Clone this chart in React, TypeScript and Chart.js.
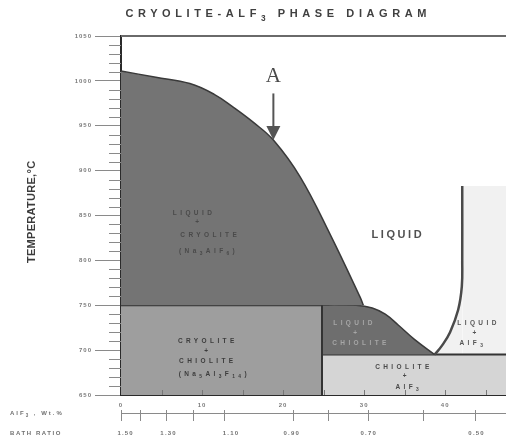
import React, { useEffect, useRef } from 'react';
import { Chart, registerables } from 'chart.js';

Chart.register(...registerables);

const FONT = '"Liberation Sans", Arial, sans-serif';

// ---- text ----
const TITLE = 'CRYOLITE-ALF_3 PHASE DIAGRAM';
const Y_TITLE = 'TEMPERATURE,°C';
const X_TITLE = 'AlF_3 , Wt.%';
const BATH_TITLE = 'BATH RATIO';

// ---- axes ----
const X_MAX = 47.5;
const T_MIN = 650;
const T_MAX = 1050;
const xTickValues = [0, 10, 20, 30, 40];
const xTickLabels = ['0', '10', '20', '30', '40'];
const xInnerTicks = [5, 10, 15, 20, 25, 30, 35, 40, 45];
const yTickValues = [650, 700, 750, 800, 850, 900, 950, 1000, 1050];
const yMinorValues = [
  660, 670, 680, 690, 710, 720, 730, 740, 760, 770, 780, 790,
  810, 820, 830, 840, 860, 870, 880, 890, 910, 920, 930, 940,
  960, 970, 980, 990, 1010, 1020, 1030, 1040,
];

// bath ratio secondary scale (positions in wt% AlF3)
const bathTickPos = [0, 2.4, 5.6, 8.9, 12.7, 21.2, 25.6, 30.5, 37.2, 43.7];
const bathLabels = ['1.50', '1.30', '1.10', '0.90', '0.70', '0.50'];
const bathLabelPos = [0.5, 5.8, 13.5, 21.0, 30.5, 43.8];

// ---- phase boundaries ----
const CHIOLITE_X = 24.8;
const PERITECTIC_T = 750;
const EUTECTIC_T = 695;
const ALF3_TOP_T = 883;
const ALF3_LINE_X = 42.1;

const cryoLiqX = [0, 4.3, 8.5, 11.5, 13.8, 16.3, 18.8, 22.1, 25.8, 29.5, 29.9];
const cryoLiqT = [1011, 1004, 997, 985, 971, 954, 934, 893, 829, 759, 750];

const chiolLiqX = [24.8, 29.0, 31.0, 32.6, 34.2, 36.2, 38.7];
const chiolLiqT = [750, 750, 747, 740, 728, 712, 695];

const alf3LiqX = [38.7, 39.6, 40.6, 41.6, 42.05, 42.1, 42.1];
const alf3LiqT = [695, 705, 720, 745, 771, 800, 883];

// arrow "A"
const ARROW_X = 18.8;
const ARROW_TIP_T = 934;
const ARROW_TAIL_T = 986;
const A_LABEL_T = 1005;

type Label = { text: string; x: number; t: number; color: string; size?: number; spacing?: number };
const regionLabels: Label[] = [
  { text: 'LIQUID', x: 8.8, t: 853, color: '#4a4a4a' },
  { text: '+', x: 9.4, t: 842, color: '#4a4a4a' },
  { text: 'CRYOLITE', x: 10.8, t: 828, color: '#4a4a4a' },
  { text: '(Na_3AlF_6)', x: 10.6, t: 810, color: '#4a4a4a' },

  { text: 'CRYOLITE', x: 10.5, t: 710, color: '#3c3c3c' },
  { text: '+', x: 10.5, t: 699, color: '#3c3c3c' },
  { text: 'CHIOLITE', x: 10.5, t: 688, color: '#3c3c3c' },
  { text: '(Na_5Al_3F_14)', x: 11.3, t: 673, color: '#3c3c3c' },

  { text: 'LIQUID', x: 28.6, t: 730, color: '#a6a6a6' },
  { text: '+', x: 28.9, t: 719, color: '#a6a6a6' },
  { text: 'CHIOLITE', x: 29.4, t: 708, color: '#a6a6a6' },

  { text: 'LIQUID', x: 34.0, t: 828, color: '#505050', size: 11, spacing: 2.6 },

  { text: 'LIQUID', x: 43.9, t: 730, color: '#555555' },
  { text: '+', x: 43.6, t: 719, color: '#555555' },
  { text: 'AlF_3', x: 43.2, t: 708, color: '#555555' },

  { text: 'CHIOLITE', x: 34.7, t: 681, color: '#4a4a4a' },
  { text: '+', x: 35.0, t: 671, color: '#4a4a4a' },
  { text: 'AlF_3', x: 35.3, t: 659, color: '#4a4a4a' },
];

type Part = { t: string; sub: boolean };
function parseRich(s: string): Part[] {
  const parts: Part[] = [];
  const re = /_(\d+)/g;
  let last = 0;
  let m: RegExpExecArray | null;
  while ((m = re.exec(s))) {
    if (m.index > last) parts.push({ t: s.slice(last, m.index), sub: false });
    parts.push({ t: m[1], sub: true });
    last = m.index + m[0].length;
  }
  if (last < s.length) parts.push({ t: s.slice(last), sub: false });
  return parts;
}

type RichOpts = { size: number; spacing: number; color: string; weight?: string; family?: string; align?: 'left' | 'center' | 'right' };
function drawRich(ctx: any, s: string, x: number, y: number, o: RichOpts) {
  const parts = parseRich(s);
  ctx.save();
  ctx.letterSpacing = o.spacing + 'px';
  ctx.fillStyle = o.color;
  ctx.textBaseline = 'middle';
  ctx.textAlign = 'left';
  const fontFor = (sub: boolean) => `${o.weight ?? 'bold'} ${sub ? o.size * 0.75 : o.size}px ${o.family ?? FONT}`;
  let total = 0;
  const widths = parts.map((p) => {
    ctx.font = fontFor(p.sub);
    const w = ctx.measureText(p.t).width;
    total += w;
    return w;
  });
  total -= o.spacing;
  let cx = o.align === 'left' ? x : o.align === 'right' ? x - total : x - total / 2;
  parts.forEach((p, i) => {
    ctx.font = fontFor(p.sub);
    ctx.fillText(p.t, cx, p.sub ? y + o.size * 0.4 : y);
    cx += widths[i];
  });
  ctx.restore();
}

const pts = (xs: number[], ys: number[]) => xs.map((x, i) => ({ x, y: ys[i] }));

const overlay = {
  id: 'overlay',
  beforeDraw(chart: any) {
    chart.ctx.letterSpacing = '1px';
  },
  afterDatasetsDraw(chart: any) {
    const ctx = chart.ctx;
    const xs = chart.scales.x;
    const ys = chart.scales.y;
    const ca = chart.chartArea;

    // inner ticks on bottom axis
    ctx.save();
    ctx.strokeStyle = '#777';
    ctx.lineWidth = 1;
    xInnerTicks.forEach((v) => {
      const px = Math.round(xs.getPixelForValue(v)) + 0.5;
      ctx.beginPath();
      ctx.moveTo(px, ca.bottom);
      ctx.lineTo(px, ca.bottom - 5);
      ctx.stroke();
    });
    // top frame line
    ctx.strokeStyle = '#6a6a6a';
    ctx.lineWidth = 2;
    ctx.beginPath();
    ctx.moveTo(ca.left, ca.top);
    ctx.lineTo(ca.right, ca.top);
    ctx.stroke();
    ctx.restore();

    // region labels
    regionLabels.forEach((l) => {
      drawRich(ctx, l.text, xs.getPixelForValue(l.x), ys.getPixelForValue(l.t), {
        size: l.size ?? 6.5,
        spacing: l.spacing ?? 3.4,
        color: l.color,
      });
    });

    // arrow A
    const ax = xs.getPixelForValue(ARROW_X);
    const tip = ys.getPixelForValue(ARROW_TIP_T);
    const tail = ys.getPixelForValue(ARROW_TAIL_T);
    ctx.save();
    ctx.strokeStyle = '#555';
    ctx.fillStyle = '#555';
    ctx.lineWidth = 2;
    ctx.beginPath();
    ctx.moveTo(ax, tail);
    ctx.lineTo(ax, tip - 12);
    ctx.stroke();
    ctx.beginPath();
    ctx.moveTo(ax - 7, tip - 14);
    ctx.lineTo(ax + 7, tip - 14);
    ctx.lineTo(ax, tip);
    ctx.closePath();
    ctx.fill();
    ctx.restore();
    drawRich(ctx, 'A', ax, ys.getPixelForValue(A_LABEL_T), {
      size: 21,
      spacing: 0,
      color: '#4a4a4a',
      weight: 'normal',
      family: '"Liberation Serif", "Times New Roman", serif',
    });
  },
  afterDraw(chart: any) {
    const ctx = chart.ctx;
    const xs = chart.scales.x;
    const ys = chart.scales.y;
    const ca = chart.chartArea;
    ctx.letterSpacing = '0px';

    // minor y ticks
    ctx.save();
    ctx.strokeStyle = '#8a8a8a';
    ctx.lineWidth = 1;
    yMinorValues.forEach((v) => {
      const py = Math.round(ys.getPixelForValue(v)) + 0.5;
      ctx.beginPath();
      ctx.moveTo(ca.left - 12, py);
      ctx.lineTo(ca.left, py);
      ctx.stroke();
    });
    ctx.restore();

    // title
    drawRich(ctx, TITLE, 276, 14, { size: 11, spacing: 4.6, color: '#404040' });

    // y title
    ctx.save();
    ctx.translate(32, 212);
    ctx.rotate(-Math.PI / 2);
    drawRich(ctx, Y_TITLE, 0, 0, { size: 11, spacing: 0.3, color: '#3c3c3c' });
    ctx.restore();

    // x title & bath ratio axis
    drawRich(ctx, X_TITLE, 10, 413, { size: 6, spacing: 2, color: '#707070', align: 'left' });
    drawRich(ctx, BATH_TITLE, 10, 433, { size: 6, spacing: 1.6, color: '#707070', align: 'left' });

    ctx.save();
    ctx.strokeStyle = '#8a8a8a';
    ctx.lineWidth = 1;
    ctx.beginPath();
    ctx.moveTo(ca.left, 413.5);
    ctx.lineTo(ca.right, 413.5);
    ctx.stroke();
    bathTickPos.forEach((v) => {
      const px = Math.round(xs.getPixelForValue(v)) + 0.5;
      ctx.beginPath();
      ctx.moveTo(px, 410);
      ctx.lineTo(px, 421);
      ctx.stroke();
    });
    ctx.restore();
    bathLabels.forEach((lab, i) => {
      drawRich(ctx, lab, xs.getPixelForValue(bathLabelPos[i]), 433, { size: 6, spacing: 1.2, color: '#707070' });
    });
  },
};

export default function App() {
  const ref = useRef<HTMLCanvasElement | null>(null);

  useEffect(() => {
    if (!ref.current) return;
    const tickFont = { family: FONT, size: 6, weight: 'bold' as const };
    const chart = new Chart(ref.current, {
      type: 'line',
      data: {
        datasets: [
          {
            label: 'AlF3 liquidus',
            data: pts(alf3LiqX, alf3LiqT),
            borderColor: '#4a4a4a',
            borderWidth: 2.5,
            tension: 0.4,
            fill: false,
            order: 0,
          },
          {
            label: 'chiolite boundary',
            data: [
              { x: CHIOLITE_X, y: T_MIN },
              { x: CHIOLITE_X, y: PERITECTIC_T },
            ],
            borderColor: '#333',
            borderWidth: 2,
            fill: false,
            order: 0,
          },
          {
            label: 'liquid + cryolite',
            data: pts(cryoLiqX, cryoLiqT),
            borderColor: '#3a3a3a',
            borderWidth: 1.5,
            backgroundColor: '#747474',
            fill: { value: PERITECTIC_T },
            tension: 0.4,
            order: 1,
          },
          {
            label: 'liquid + chiolite',
            data: pts(chiolLiqX, chiolLiqT),
            borderColor: '#3a3a3a',
            borderWidth: 1.5,
            backgroundColor: '#6e6e6e',
            fill: { value: EUTECTIC_T },
            tension: 0.4,
            order: 1,
          },
          {
            label: 'cryolite + chiolite',
            data: [
              { x: 0, y: PERITECTIC_T },
              { x: CHIOLITE_X, y: PERITECTIC_T },
            ],
            borderColor: '#333',
            borderWidth: 2,
            backgroundColor: '#9e9e9e',
            fill: { value: T_MIN },
            order: 2,
          },
          {
            label: 'chiolite + AlF3',
            data: [
              { x: CHIOLITE_X, y: EUTECTIC_T },
              { x: X_MAX, y: EUTECTIC_T },
            ],
            borderColor: '#333',
            borderWidth: 2,
            backgroundColor: '#d5d5d5',
            fill: { value: T_MIN },
            order: 2,
          },
          {
            label: 'liquid + AlF3 (curve part)',
            data: pts(alf3LiqX, alf3LiqT),
            borderColor: 'rgba(0,0,0,0)',
            borderWidth: 1,
            backgroundColor: '#f1f1f1',
            fill: { value: EUTECTIC_T },
            tension: 0.4,
            order: 3,
          },
          {
            label: 'liquid + AlF3',
            data: [
              { x: ALF3_LINE_X, y: ALF3_TOP_T },
              { x: X_MAX, y: ALF3_TOP_T },
            ],
            borderColor: 'rgba(0,0,0,0)',
            borderWidth: 1,
            backgroundColor: '#f1f1f1',
            fill: { value: EUTECTIC_T },
            tension: 0,
            order: 3,
          },
        ],
      },
      options: {
        responsive: false,
        maintainAspectRatio: false,
        animation: false,
        events: [],
        layout: { padding: { top: 36, left: 0, right: 0, bottom: 0 } },
        elements: { point: { radius: 0, hoverRadius: 0 } },
        plugins: {
          legend: { display: false },
          title: { display: false },
          tooltip: { enabled: false },
        },
        scales: {
          x: {
            type: 'linear',
            min: 0,
            max: X_MAX,
            afterBuildTicks: (s: any) => {
              s.ticks = xTickValues.map((v) => ({ value: v }));
            },
            afterFit: (s: any) => {
              s.height = 43;
            },
            grid: { drawOnChartArea: false, drawTicks: false },
            border: { display: true, color: '#2a2a2a', width: 2 },
            ticks: {
              font: tickFont,
              color: '#7a7a7a',
              padding: 7,
              maxRotation: 0,
              autoSkip: false,
              callback: (v: any, i: number) => xTickLabels[i] ?? String(v),
            },
          },
          y: {
            type: 'linear',
            min: T_MIN,
            max: T_MAX,
            afterBuildTicks: (s: any) => {
              s.ticks = yTickValues.map((v) => ({ value: v }));
            },
            afterFit: (s: any) => {
              s.width = 121;
            },
            grid: { drawOnChartArea: false, drawTicks: true, tickLength: 26, color: '#8a8a8a', lineWidth: 1 },
            border: { display: true, color: '#2a2a2a', width: 2 },
            ticks: {
              font: tickFont,
              color: '#7a7a7a',
              padding: 3,
              callback: (v: any) => String(v),
            },
          },
        },
      },
      plugins: [overlay],
    } as any);
    return () => chart.destroy();
  }, []);

  return (
    <div style={{ position: 'fixed', left: 0, top: 0, width: 506, height: 438, background: '#fff' }}>
      <canvas ref={ref} width={506} height={438} />
    </div>
  );
}
